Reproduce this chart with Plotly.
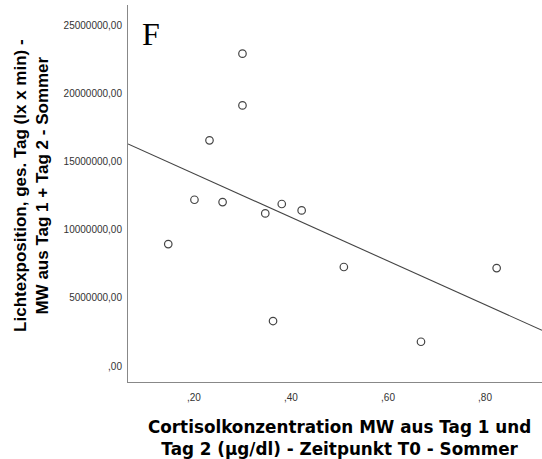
import numpy as np
import plotly.graph_objects as go

# Cortisol (µg/dl) vs. light exposure (lx x min), summer
cortisol = [0.300, 0.300, 0.232, 0.201, 0.259, 0.147, 0.347, 0.381, 0.422, 0.363, 0.509, 0.668, 0.824]
licht = [22900000, 19110000, 16550000, 12190000, 12020000, 8940000, 11190000,
         11880000, 11410000, 3300000, 7260000, 1780000, 7180000]

y_ticks = [0, 5000000, 10000000, 15000000, 20000000, 25000000]
y_ticktext = [",00", "5000000,00", "10000000,00", "15000000,00", "20000000,00", "25000000,00"]
x_ticks = [0.2, 0.4, 0.6, 0.8]
x_ticktext = [",20", ",40", ",60", ",80"]

x_range = [0.064, 0.9175]
y_range = [-1170000, 26470000]

# linear fit line
slope, icpt = np.polyfit(cortisol, licht, 1)
fit_x = np.array(x_range)
fit_y = slope * fit_x + icpt

fig = go.Figure()
fig.add_trace(go.Scatter(
    x=fit_x, y=fit_y, mode="lines",
    line=dict(color="#444444", width=1.1),
    hoverinfo="skip", showlegend=False,
))
fig.add_trace(go.Scatter(
    x=cortisol, y=licht, mode="markers",
    marker=dict(symbol="circle-open", size=7.5, color="#444444", line=dict(width=1.2)),
    showlegend=False,
))

fig.update_xaxes(
    range=x_range, tickvals=x_ticks, ticktext=x_ticktext,
    showgrid=False, zeroline=False, showline=True, linecolor="#888888", linewidth=1,
    ticks="outside", ticklen=6, tickcolor="rgba(0,0,0,0)",
    tickfont=dict(family="Liberation Sans, Arial", size=10, color="#333333"),
)
fig.update_yaxes(
    range=y_range, tickvals=y_ticks, ticktext=y_ticktext,
    showgrid=False, zeroline=False, showline=True, linecolor="#888888", linewidth=1,
    ticks="outside", ticklen=3, tickcolor="rgba(0,0,0,0)",
    tickfont=dict(family="Liberation Sans, Arial", size=10, color="#333333"),
)

fig.add_annotation(
    x=0.03, y=0.975, xref="paper", yref="paper", xanchor="left", yanchor="top",
    text="F", showarrow=False,
    font=dict(family="Liberation Serif, Times New Roman", size=32, color="black"),
)
fig.add_annotation(
    x=-0.235, y=0.522, xref="paper", yref="paper", xanchor="center", yanchor="middle",
    text="<b>Lichtexposition, ges. Tag (lx x min) -<br>MW aus Tag 1 + Tag 2 - Sommer</b>",
    textangle=-90, showarrow=False,
    font=dict(family="Liberation Sans, Arial", size=17, color="black"),
)
fig.add_annotation(
    x=0.51, y=-0.088, xref="paper", yref="paper", xanchor="center", yanchor="top",
    text="<b>Cortisolkonzentration MW aus Tag 1 und<br>Tag 2 (µg/dl) - Zeitpunkt T0 - Sommer</b>",
    showarrow=False,
    font=dict(family="DejaVu Sans", size=16.8, color="black"),
)

fig.update_layout(
    width=542, height=459,
    margin=dict(l=128, r=0, t=5, b=77),
    plot_bgcolor="white", paper_bgcolor="white",
)

fig.write_html("out.html", config={"displayModeBar": False},
               post_script="document.body.style.margin='0px';")
